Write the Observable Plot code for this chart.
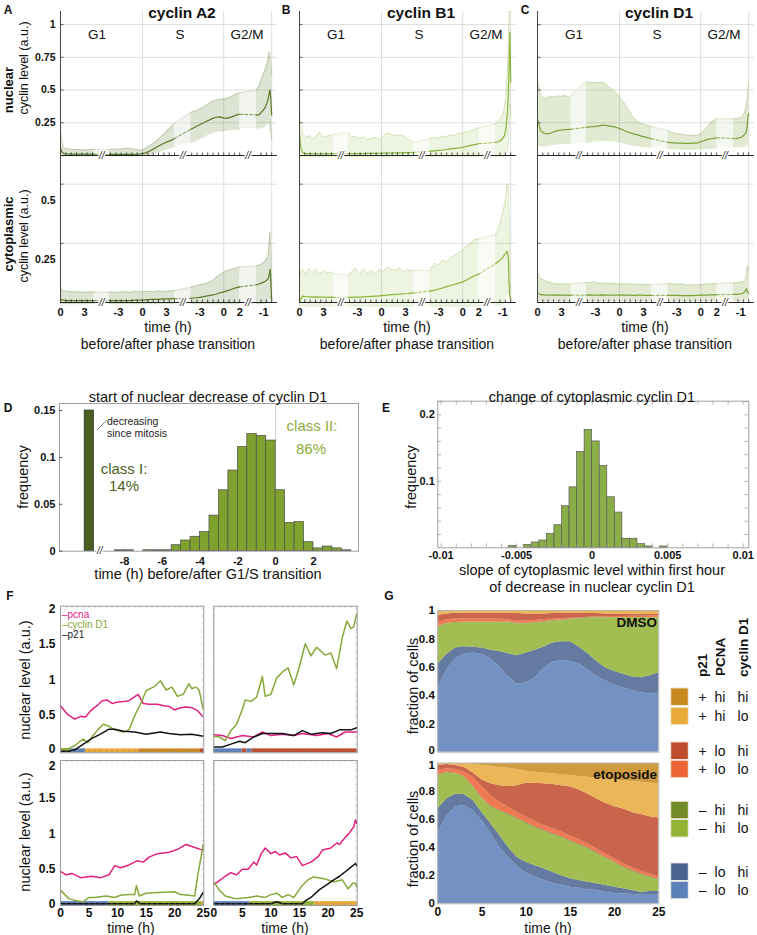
<!DOCTYPE html>
<html><head><meta charset="utf-8">
<script src="https://cdn.jsdelivr.net/npm/d3@7"></script>
<script src="https://cdn.jsdelivr.net/npm/@observablehq/plot@0.6"></script>
<style>
body{margin:0;background:#fff;}
#root{position:relative;width:757px;height:935px;overflow:hidden;background:#fff;}
</style></head><body><div id="root"></div>
<script>
// ---------------- DATA ----------------
// Panels A-C: time samples (h) relative to each transition, per segment of the broken axis
const seg1T = [0, 0.15, 0.4, 0.8, 1.2, 1.6, 2, 2.5, 3, 3.5, 4, 4.2];                 // after mitosis
const seg2T = [-4.15, -3.75, -3.25, -2.75, -2.25, -1.75, -1.25, -0.75, -0.25, 0.25, 0.75, 1.25, 1.75, 2.25, 2.75, 3.25, 3.75, 4.0]; // around G1/S
const seg3T = [-4.1, -3.5, -3, -2.5, -2, -1.5, -1, -0.5, 0, 0.5, 1, 1.5, 2];          // around S/G2
const seg4T = [-1.9, -1.6, -1.3, -1.0, -0.8, -0.6, -0.45, -0.3, -0.2, -0.1, 0];       // before mitosis

const A_nuc_mean = [0.06,0.03,0.015,0.012,0.01,0.01,0.01,0.01,0.01,0.01,0.01,0.01, 0.008,0.008,0.008,0.008,0.008,0.008,0.009,0.01,0.012,0.018,0.03,0.045,0.063,0.08,0.095,0.108,0.12,0.13, 0.2,0.22,0.235,0.25,0.265,0.28,0.292,0.295,0.285,0.285,0.295,0.308,0.315, 0.31,0.31,0.33,0.35,0.37,0.4,0.43,0.48,0.5,0.42,0.31];
const A_nuc_hi = [0.2,0.12,0.06,0.05,0.048,0.045,0.045,0.044,0.043,0.045,0.046,0.046, 0.045,0.05,0.048,0.05,0.052,0.055,0.05,0.045,0.04,0.05,0.07,0.09,0.11,0.14,0.17,0.2,0.23,0.245, 0.33,0.34,0.355,0.37,0.39,0.41,0.42,0.43,0.43,0.44,0.45,0.47,0.48, 0.5,0.53,0.58,0.63,0.66,0.7,0.74,0.79,0.76,0.7,0.62];
const A_nuc_lo = [-0.003,-0.003,-0.003,-0.003,-0.003,-0.003,-0.003,-0.003,-0.003,-0.003,-0.003,-0.003, -0.003,-0.003,-0.003,-0.003,-0.003,-0.003,-0.003,-0.003,-0.002,0.002,0.008,0.015,0.025,0.035,0.045,0.055,0.065,0.07, 0.1,0.115,0.13,0.145,0.16,0.175,0.185,0.19,0.19,0.195,0.2,0.2,0.205, 0.21,0.21,0.215,0.22,0.23,0.24,0.25,0.26,0.24,0.18,0.12];
const A_cyt_mean = [0.01,0.012,0.01,0.008,0.008,0.008,0.008,0.008,0.008,0.008,0.008,0.008, 0.008,0.008,0.008,0.008,0.008,0.008,0.009,0.01,0.01,0.011,0.012,0.013,0.013,0.014,0.015,0.015,0.016,0.016, 0.018,0.02,0.022,0.025,0.028,0.031,0.035,0.04,0.045,0.05,0.056,0.062,0.066, 0.075,0.078,0.082,0.086,0.09,0.095,0.1,0.12,0.14,0.08,0.015];
const A_cyt_hi = [0.07,0.055,0.05,0.047,0.045,0.046,0.044,0.045,0.043,0.044,0.045,0.044, 0.043,0.045,0.042,0.044,0.046,0.043,0.045,0.047,0.044,0.046,0.048,0.045,0.047,0.049,0.046,0.048,0.05,0.05, 0.065,0.07,0.075,0.078,0.083,0.09,0.105,0.118,0.128,0.135,0.14,0.145,0.15, 0.155,0.158,0.162,0.17,0.175,0.185,0.2,0.26,0.3,0.2,0.06];
const A_cyt_lo = [-0.005,-0.005,-0.005,-0.005,-0.005,-0.005,-0.005,-0.005,-0.005,-0.005,-0.005,-0.005, -0.005,-0.005,-0.005,-0.005,-0.005,-0.005,-0.005,-0.005,-0.005,-0.005,-0.005,-0.005,-0.005,-0.005,-0.005,-0.005,-0.005,-0.005, -0.005,-0.005,-0.005,-0.005,-0.005,-0.005,-0.005,-0.005,-0.005,-0.005,-0.005,-0.005,-0.005, -0.005,-0.005,-0.005,-0.004,-0.003,0,0.005,0.02,0.03,0.01,0];

const B_nuc_mean = [0.17,0.06,0.02,0.015,0.014,0.014,0.013,0.013,0.013,0.014,0.014,0.014, 0.014,0.014,0.015,0.015,0.015,0.016,0.016,0.017,0.017,0.018,0.018,0.019,0.02,0.02,0.021,0.022,0.023,0.024, 0.033,0.036,0.039,0.042,0.046,0.05,0.054,0.058,0.063,0.07,0.077,0.083,0.09, 0.1,0.105,0.112,0.13,0.15,0.2,0.3,0.45,0.67,0.94,0.56];
const B_nuc_hi = [0.34,0.25,0.17,0.14,0.15,0.13,0.14,0.18,0.14,0.15,0.15,0.16, 0.18,0.14,0.15,0.13,0.14,0.12,0.13,0.14,0.12,0.15,0.17,0.16,0.15,0.16,0.15,0.13,0.11,0.1, 0.13,0.14,0.13,0.15,0.14,0.16,0.15,0.17,0.17,0.18,0.19,0.2,0.21, 0.24,0.26,0.28,0.31,0.36,0.45,0.6,0.85,1.1,1.1,1.1];
const B_nuc_lo = [-0.01,-0.01,-0.01,-0.01,-0.01,-0.01,-0.01,-0.01,-0.01,-0.01,-0.01,-0.01, -0.01,-0.01,-0.01,-0.01,-0.01,-0.01,-0.01,-0.01,-0.01,-0.01,-0.01,-0.01,-0.01,-0.01,-0.01,-0.01,-0.01,-0.01, -0.01,-0.01,-0.01,-0.01,-0.01,-0.01,-0.01,-0.01,-0.01,-0.01,-0.01,-0.01,-0.01, -0.01,-0.01,-0.01,-0.005,0,0.01,0.03,0.08,0.2,0.4,0.3];
const B_cyt_mean = [0.0,0.015,0.027,0.025,0.024,0.023,0.024,0.023,0.023,0.022,0.023,0.022, 0.022,0.022,0.023,0.023,0.024,0.025,0.026,0.027,0.028,0.03,0.031,0.033,0.034,0.035,0.037,0.038,0.04,0.04, 0.048,0.052,0.057,0.062,0.067,0.072,0.077,0.082,0.087,0.095,0.105,0.113,0.12, 0.164,0.172,0.18,0.19,0.2,0.21,0.217,0.19,0.08,0.03,0.015];
const B_cyt_hi = [0.107,0.13,0.14,0.12,0.145,0.125,0.14,0.12,0.135,0.125,0.13,0.124, 0.114,0.13,0.145,0.12,0.14,0.125,0.135,0.12,0.14,0.13,0.15,0.14,0.135,0.145,0.13,0.14,0.135,0.135, 0.135,0.165,0.16,0.18,0.17,0.19,0.2,0.21,0.22,0.24,0.25,0.265,0.27, 0.285,0.31,0.34,0.38,0.41,0.45,0.5,0.5,0.35,0.15,0.06];
const B_cyt_lo = [-0.015,-0.015,-0.015,-0.015,-0.015,-0.015,-0.015,-0.015,-0.015,-0.015,-0.015,-0.015, -0.015,-0.015,-0.015,-0.015,-0.015,-0.015,-0.015,-0.015,-0.015,-0.015,-0.015,-0.015,-0.015,-0.015,-0.015,-0.015,-0.015,-0.015, -0.015,-0.015,-0.015,-0.015,-0.015,-0.015,-0.015,-0.015,-0.015,-0.015,-0.015,-0.015,-0.015, -0.015,-0.012,-0.01,-0.005,0.02,0.03,0.04,0.05,0.04,0.01,0];

const C_nuc_mean = [0.28,0.24,0.19,0.17,0.165,0.17,0.18,0.19,0.195,0.198,0.2,0.2, 0.216,0.218,0.22,0.225,0.23,0.23,0.225,0.22,0.212,0.2,0.185,0.175,0.165,0.157,0.148,0.14,0.132,0.128, 0.1,0.097,0.095,0.094,0.093,0.093,0.094,0.095,0.105,0.115,0.125,0.13,0.135, 0.13,0.13,0.132,0.138,0.145,0.155,0.165,0.18,0.22,0.29,0.32];
const C_nuc_hi = [0.59,0.54,0.47,0.43,0.44,0.45,0.445,0.455,0.45,0.46,0.44,0.46, 0.565,0.555,0.56,0.555,0.56,0.55,0.52,0.5,0.47,0.43,0.39,0.34,0.29,0.26,0.245,0.235,0.225,0.22, 0.19,0.175,0.168,0.162,0.158,0.155,0.153,0.152,0.165,0.195,0.23,0.265,0.28, 0.28,0.28,0.285,0.29,0.3,0.32,0.34,0.37,0.42,0.5,0.56];
const C_nuc_lo = [0.09,0.085,0.075,0.071,0.075,0.08,0.085,0.088,0.09,0.092,0.094,0.094, 0.1,0.103,0.108,0.112,0.115,0.115,0.113,0.11,0.107,0.1,0.092,0.085,0.078,0.074,0.07,0.067,0.065,0.064, 0.056,0.054,0.052,0.05,0.05,0.05,0.05,0.05,0.052,0.054,0.056,0.057,0.058, 0.064,0.065,0.066,0.067,0.068,0.07,0.072,0.075,0.08,0.085,0.09];
const C_cyt_mean = [0.04,0.038,0.033,0.032,0.031,0.031,0.031,0.032,0.031,0.031,0.03,0.031, 0.031,0.032,0.031,0.031,0.032,0.031,0.031,0.031,0.031,0.032,0.031,0.031,0.03,0.031,0.031,0.03,0.03,0.03, 0.03,0.03,0.03,0.029,0.029,0.029,0.029,0.03,0.031,0.031,0.032,0.032,0.033, 0.034,0.034,0.035,0.036,0.038,0.042,0.048,0.058,0.05,0.042,0.038];
const C_cyt_hi = [0.143,0.12,0.1,0.095,0.088,0.085,0.08,0.078,0.079,0.077,0.078,0.078, 0.085,0.083,0.088,0.082,0.08,0.083,0.079,0.081,0.078,0.08,0.077,0.079,0.076,0.078,0.076,0.077,0.075,0.075, 0.08,0.078,0.077,0.079,0.076,0.074,0.075,0.074,0.076,0.077,0.078,0.079,0.08, 0.083,0.083,0.085,0.086,0.088,0.09,0.095,0.11,0.15,0.157,0.135];
const C_cyt_lo = [0.01,0.009,0.008,0.008,0.008,0.008,0.008,0.008,0.008,0.008,0.008,0.008, 0.008,0.009,0.008,0.008,0.007,0.008,0.008,0.009,0.008,0.008,0.007,0.008,0.008,0.008,0.009,0.008,0.008,0.008, 0.008,0.008,0.008,0.008,0.008,0.008,0.008,0.008,0.008,0.008,0.008,0.008,0.008, 0.008,0.008,0.008,0.008,0.009,0.009,0.01,0.011,0.012,0.012,0.012];

const nucGrid = [0.25, 0.5, 0.75, 1];
const cytGrid = [0.25, 0.5];
const xTickSeg = [0, 0, 1, 1, 1, 2, 2, 2, 3];
const xTickT = [0, 3, -3, 0, 3, -3, 0, 2, -1];

// Panel D: histogram of start of nuclear decrease (bin start, h; width 0.5 h)
const dBinStart = [-8.5,-8,-7,-6.5,-6,-5.5,-5,-4.5,-4,-3.5,-3,-2.5,-2,-1.5,-1,-0.5,0,0.5,1,1.5,2,2.5,3,3.5];
const dFreq = [0.001,0.001,0.001,0.001,0.001,0.0064,0.0114,0.0154,0.0204,0.038,0.065,0.086,0.111,0.125,0.123,0.118,0.065,0.030,0.031,0.0096,0.003,0.005,0.003,0.001];
const classIFreq = 0.15;
const dXTicks = [-8, -6, -4, -2, 0, 2];
const dYTicks = [0, 0.05, 0.1, 0.15];

// Panel E: slope histogram (bin start; width 0.0005)
const eBinStart = [-0.0055,-0.0045,-0.004,-0.0035,-0.003,-0.0025,-0.002,-0.0015,-0.001,-0.0005,0,0.0005,0.001,0.0015,0.002,0.0025,0.003,0.0035,0.0045];
const eFreq = [0.0025,0.0045,0.008,0.011,0.021,0.034,0.0625,0.091,0.144,0.177,0.16,0.123,0.076,0.053,0.0136,0.0136,0.0055,0.002,0.002];
const eXTicks = [-0.01, -0.005, 0, 0.005, 0.01];
const eXLabels = ["-0.01", "-0.005", "0", "0.005", "0.01"];
const eYTicks = [0.1, 0.2];

// Panel F: single-cell traces (time h, nuclear level)
const F1_pcna_t = [0,1.2,2.5,3.5,4.4,5.3,6.4,7.3,8.1,9.1,9.9,11.1,12,12.9,13.6,14.5,15.5,17,18.1,19,20,21,22,23.1,24,24.9];
const F1_pcna_v = [0.64,0.52,0.45,0.49,0.48,0.57,0.64,0.71,0.72,0.67,0.69,0.7,0.71,0.76,0.8,0.67,0.66,0.66,0.64,0.63,0.58,0.61,0.62,0.61,0.57,0.49];
const F1_cyc_t = [0,1.5,2.5,3.3,4,4.8,5.5,6.5,7.5,8.5,9.5,11,12,13,14,15,16.5,17.5,18.5,19.5,20.5,21.5,22.5,23,23.8,24.3,25];
const F1_cyc_v = [0.03,0.04,0.08,0.13,0.17,0.12,0.2,0.3,0.38,0.35,0.3,0.27,0.3,0.5,0.66,0.85,0.91,0.99,0.86,0.9,0.77,0.8,0.95,0.88,0.9,0.85,0.59];
const F1_p21_t = [0,1.5,2.5,4,5.5,7,8.5,9.5,11,13,15,17.5,19,21,23,25];
const F1_p21_v = [0,0,0.02,0.1,0.18,0.24,0.31,0.31,0.28,0.27,0.24,0.27,0.25,0.23,0.24,0.21];

const F2_pcna_t = [0,1.5,3,5,7,8.5,10,12,14,15.5,18,20,21.5,23,25];
const F2_pcna_v = [0.23,0.22,0.18,0.22,0.2,0.27,0.22,0.24,0.22,0.25,0.22,0.25,0.2,0.27,0.27];
const F2_cyc_t = [0,1,2,3,4,5,5.5,6.5,7.5,8.5,9,10,11,12,13,14,15,16,17,18,19.5,20.5,21.5,22.5,23.3,24,24.5,25];
const F2_cyc_v = [0.21,0.2,0.15,0.29,0.38,0.59,0.72,0.7,0.76,1.05,0.77,0.8,1.03,1.11,1.17,0.93,1.19,1.51,1.34,1.46,1.35,1.38,1.16,1.6,1.83,1.72,1.75,1.92];
const F2_p21_t = [0,1.5,3,4.5,5.5,7,8.5,10,12,14,15.5,17,19,20.5,22,24,25];
const F2_p21_v = [0.06,0.06,0.1,0.14,0.12,0.2,0.25,0.25,0.25,0.22,0.29,0.24,0.26,0.25,0.3,0.3,0.33];

const F3_pcna_t = [0,1,2,3.5,5.5,7,8.5,9.5,10.5,12,13.5,14.5,15.5,17,19,20.5,22,23,24.5,25];
const F3_pcna_v = [0.47,0.42,0.44,0.38,0.4,0.38,0.42,0.55,0.52,0.56,0.62,0.6,0.67,0.72,0.74,0.78,0.85,0.82,0.78,0.77];
const F3_cyc_t = [0,1.5,3,4,5,6,8,9.5,10.5,12,13,13.3,13.8,15,17,20,21,22.5,23.5,24,25];
const F3_cyc_v = [0.2,0.08,0.05,0.04,0.1,0.1,0.12,0.1,0.13,0.14,0.14,0.27,0.12,0.16,0.17,0.18,0.14,0.13,0.12,0.39,0.85];
const F3_p21_t = [0,5,10,13,13.3,14,18,23.5,24.3,25];
const F3_p21_v = [0.01,0.01,0.01,0.01,0.05,0.01,0.01,0.01,0.08,0.17];

const F4_pcna_t = [0,0.5,2,3,4,5,6,7,7.5,8.3,9,10,10.8,11.5,12.5,13.5,14.5,15.5,17,18.3,19,20.5,21.5,22,23,23.8,24.5,24.8,25];
const F4_pcna_v = [0.29,0.31,0.4,0.45,0.42,0.5,0.5,0.6,0.56,0.72,0.8,0.72,0.75,0.7,0.73,0.66,0.68,0.55,0.6,0.68,0.77,0.8,0.87,0.85,0.95,1.02,1.1,1.2,1.15];
const F4_cyc_t = [0,1,2,3,4,6,7.5,9,10,11,12,13,14,15.5,16.5,17.5,19.5,21,22.5,23.5,24.3,24.8,25];
const F4_cyc_v = [0.32,0.2,0.12,0.1,0.08,0.1,0.12,0.1,0.14,0.16,0.1,0.14,0.1,0.27,0.35,0.39,0.36,0.32,0.35,0.22,0.3,0.3,0.25];
const F4_p21_t = [0,5,10,11,12,15.5,16,17,18.5,19.8,21,22,22.8,24,24.8,25];
const F4_p21_v = [0.01,0.01,0.01,0.04,0.01,0.01,0.05,0.1,0.21,0.28,0.35,0.4,0.45,0.53,0.58,0.55];

// state strips under each trace: [start, end, state]
const F1_strip = [[0,1.75,"–hi lo"],[1.75,4.4,"–lo lo"],[4.4,13.7,"+hi lo"],[13.7,24.5,"+hi hi"],[24.5,25.1,"+lo hi"]];
const F2_strip = [[0,4.95,"–lo lo"],[4.95,5.8,"+lo hi"],[5.8,6.7,"–lo lo"],[6.7,25.1,"+lo hi"]];
const F3_strip = [[0,8.5,"–lo lo"],[8.5,24.7,"–hi lo"],[24.7,25.1,"+hi lo"]];
const F4_strip = [[0,6.3,"–lo lo"],[6.3,17.7,"–hi lo"],[17.7,25.1,"+hi lo"]];
const fYTicks = [0, 0.5, 1, 1.5, 2];
const fXTicks = [0, 5, 10, 15, 20, 25];

// Panel G: cumulative fractions (top of each stacked state), t = 0..25 h
const gTime = [0,1,2,3,4,5,6,7,8,9,10,11,12,13,14,15,16,17,18,19,20,21,22,23,24,25];
const gStates = ["–lo lo","–lo hi","–hi lo","–hi hi","+lo lo","+lo hi","+hi lo","+hi hi"];
const gColors = ["#5c80b9","#4a6491","#93b335","#728a27","#ec6436","#bf4c2c","#e9a93b","#c8891f"];
const dmso = [
 [0.45,0.58,0.66,0.69,0.70,0.69,0.66,0.60,0.53,0.48,0.49,0.525,0.59,0.635,0.647,0.64,0.62,0.58,0.534,0.50,0.475,0.454,0.435,0.42,0.41,0.41],
 [0.62,0.69,0.735,0.745,0.74,0.735,0.72,0.71,0.694,0.68,0.70,0.72,0.74,0.77,0.78,0.78,0.74,0.694,0.64,0.595,0.57,0.55,0.53,0.525,0.54,0.56],
 [0.88,0.905,0.91,0.913,0.913,0.913,0.913,0.913,0.913,0.905,0.905,0.91,0.915,0.925,0.928,0.934,0.94,0.946,0.948,0.948,0.948,0.948,0.948,0.948,0.948,0.95],
 [0.885,0.91,0.915,0.918,0.918,0.918,0.918,0.918,0.918,0.91,0.91,0.915,0.92,0.93,0.933,0.938,0.944,0.95,0.951,0.951,0.951,0.951,0.951,0.951,0.951,0.953],
 [0.913,0.934,0.94,0.94,0.94,0.94,0.94,0.94,0.935,0.925,0.927,0.93,0.935,0.94,0.943,0.945,0.948,0.953,0.955,0.956,0.957,0.958,0.959,0.96,0.961,0.962],
 [0.965,0.976,0.98,0.98,0.98,0.98,0.98,0.98,0.98,0.978,0.976,0.976,0.976,0.978,0.98,0.98,0.98,0.979,0.978,0.976,0.975,0.974,0.974,0.973,0.972,0.972],
 [0.99,0.992,0.992,0.993,0.993,0.993,0.993,0.993,0.993,0.993,0.993,0.993,0.993,0.993,0.993,0.993,0.993,0.993,0.993,0.993,0.993,0.993,0.993,0.993,0.993,0.993],
 [1,1,1,1,1,1,1,1,1,1,1,1,1,1,1,1,1,1,1,1,1,1,1,1,1,1]
];
const etoposide = [
 [0.5,0.62,0.69,0.70,0.66,0.59,0.50,0.40,0.33,0.265,0.218,0.19,0.166,0.147,0.133,0.118,0.111,0.10,0.095,0.083,0.071,0.071,0.066,0.06,0.06,0.06],
 [0.675,0.746,0.78,0.777,0.735,0.65,0.57,0.486,0.40,0.33,0.296,0.27,0.25,0.225,0.20,0.178,0.166,0.154,0.142,0.13,0.118,0.107,0.095,0.083,0.088,0.088],
 [0.91,0.93,0.925,0.90,0.83,0.746,0.687,0.655,0.63,0.6,0.57,0.54,0.515,0.49,0.468,0.44,0.415,0.39,0.355,0.322,0.29,0.255,0.228,0.205,0.185,0.167],
 [0.915,0.935,0.93,0.905,0.836,0.753,0.695,0.663,0.638,0.608,0.578,0.548,0.523,0.498,0.476,0.448,0.423,0.398,0.363,0.33,0.298,0.263,0.236,0.213,0.193,0.175],
 [0.948,0.96,0.955,0.936,0.90,0.83,0.77,0.72,0.687,0.65,0.616,0.585,0.557,0.533,0.51,0.48,0.455,0.426,0.39,0.355,0.32,0.284,0.256,0.232,0.21,0.19],
 [0.983,0.99,0.983,0.97,0.93,0.88,0.853,0.84,0.834,0.84,0.858,0.858,0.853,0.848,0.84,0.83,0.81,0.78,0.746,0.716,0.69,0.675,0.65,0.635,0.62,0.61],
 [1.0,1.0,1.0,1.0,0.995,0.983,0.978,0.97,0.965,0.953,0.943,0.936,0.93,0.924,0.917,0.912,0.906,0.9,0.895,0.89,0.88,0.875,0.87,0.865,0.858,0.853],
 [1,1,1,1,1,1,1,1,1,1,1,1,1,1,1,1,1,1,1,1,1,1,1,1,1,1]
];
const gYTicks = [0, 0.2, 0.4, 0.6, 0.8, 1];
const gXTicks = [0, 5, 10, 15, 20, 25];
const legendRows = [["+","hi","hi","+hi hi"],["+","hi","lo","+hi lo"],["+","lo","hi","+lo hi"],["+","lo","lo","+lo lo"],["–","hi","hi","–hi hi"],["–","hi","lo","–hi lo"],["–","lo","hi","–lo hi"],["–","lo","lo","–lo lo"]];

// ---------------- HELPERS ----------------
const FONT = "'Liberation Sans', Arial, Helvetica, sans-serif";
const root = document.getElementById("root");
const baseStyle = {fontFamily: FONT, overflow: "visible", background: "transparent"};
function put(node, left, top) { node.style.position = "absolute"; node.style.left = left + "px"; node.style.top = top + "px"; root.appendChild(node); return node; }
function label(text, x, y, o = {}) {
  const d = document.createElement("div");
  d.textContent = text;
  const a = o.anchor || "middle";
  const tx = a === "start" ? "0%" : a === "end" ? "-100%" : "-50%";
  d.style.cssText = `position:absolute;left:${x}px;top:${y}px;font-family:${FONT};font-size:${o.size || 14}px;font-weight:${o.weight || "normal"};color:${o.color || "#111"};white-space:nowrap;line-height:1;transform:translate(${tx},-50%)${o.rotate ? ` rotate(${o.rotate}deg)` : ""};`;
  root.appendChild(d);
}
const stateColor = Object.fromEntries(gStates.map((s, i) => [s, gColors[i]]));

// ---------------- PANELS A–C ----------------
const segAnchor = [0, 10.25, 20.4, 26.4]; // positions of M exit, G1/S, S/G2, M on the broken axis
const segTimes = [seg1T, seg2T, seg3T, seg4T];
const uPos = segTimes.flatMap((ts, k) => ts.map(t => segAnchor[k] + t));
const segOf = segTimes.flatMap((ts, k) => ts.map(() => k));
const tickStep = 2 / 3;
const minorU = segTimes.flatMap((ts, k) => {
  const a = ts[0], b = ts[ts.length - 1];
  return d3.range(Math.ceil(a / tickStep - 1e-9), Math.floor(b / tickStep + 1e-9) + 1).map(j => segAnchor[k] + j * tickStep);
});
const breakU = [0, 1, 2].map(k => (segAnchor[k] + segTimes[k][segTimes[k].length - 1] + segAnchor[k + 1] + segTimes[k + 1][0]) / 2);
const xTickRows = xTickSeg.map((s, i) => ({u: segAnchor[s] + xTickT[i], label: String(xTickT[i])}));

function rowsFor(mean, lo, hi) { return uPos.map((u, i) => ({u, seg: segOf[i], mean: mean[i], lo: lo[i], hi: hi[i]})); }
function gapRowsFor(rows) {
  const out = [];
  for (let k = 0; k < 3; k++) {
    const seg = rows.filter(r => r.seg === k), nxt = rows.filter(r => r.seg === k + 1);
    out.push({...seg[seg.length - 1], gap: k}, {...nxt[0], gap: k});
  }
  return out;
}
function cyclinPlot(data, color, op, kind, showY) {
  const rows = rowsFor(...data), gaps = gapRowsFor(rows);
  const nuc = kind === "nuc";
  const yMax = nuc ? 1.1 : 0.6, grid = nuc ? nucGrid : cytGrid, tl = nuc ? 0.019 : 0.011;
  const marks = [
    Plot.ruleY(grid, {x1: 0, x2: 27.1, stroke: "#d6d6d6", strokeWidth: 0.8}),
    Plot.ruleX(segAnchor.slice(1), {y1: nuc ? -0.04 : 0, y2: yMax, stroke: "#d6d6d6", strokeWidth: 0.8}),
    Plot.areaY(rows, {x: "u", y1: "lo", y2: "hi", fill: color, fillOpacity: op}),
    Plot.lineY(rows, {x: "u", y: "hi", z: "seg", stroke: color, strokeOpacity: 0.45, strokeWidth: 0.6}),
    Plot.lineY(rows, {x: "u", y: "lo", z: "seg", stroke: color, strokeOpacity: 0.45, strokeWidth: 0.6}),
    Plot.areaY(gaps, {x: "u", y1: "lo", y2: "hi", z: "gap", fill: "white", fillOpacity: 0.62}),
    Plot.lineY(gaps, {x: "u", y: "hi", z: "gap", stroke: color, strokeOpacity: 0.4, strokeWidth: 0.6, strokeDasharray: "2,2"}),
    Plot.lineY(rows, {x: "u", y: "mean", z: "seg", stroke: color, strokeWidth: 1.2}),
    Plot.lineY(gaps, {x: "u", y: "mean", z: "gap", stroke: color, strokeWidth: 1, strokeOpacity: 0.8, strokeDasharray: "3,2"}),
    Plot.ruleY([0], {x1: 0, x2: 27.1, stroke: "#222", strokeWidth: 1}),
    Plot.ruleX(minorU, {y1: 0, y2: tl, stroke: "#222", strokeWidth: 0.8}),
    Plot.ruleX([0], {y1: nuc ? -0.04 : 0, y2: yMax, stroke: "#444", strokeWidth: 1}),
    Plot.ruleY(grid, {x1: 0, x2: 0.45, stroke: "#444", strokeWidth: 0.8}),
    Plot.text(breakU, {x: d => d, y: 0, text: () => "//", fill: "#222", stroke: "white", strokeWidth: 3, paintOrder: "stroke", fontSize: 10, fontStyle: "italic"})
  ];
  if (showY) marks.push(Plot.text(grid, {x: 0, y: d => d, text: d => String(d), textAnchor: "end", dx: -5, dy: nuc ? 0 : 16, fontWeight: "bold", fontSize: 10.5, fill: "#111"}));
  if (!nuc) marks.push(Plot.text(xTickRows, {x: "u", y: 0, text: "label", dy: 10, fontWeight: "bold", fontSize: 11, fill: "#111"}));
  return Plot.plot({
    width: 280, height: nuc ? 160 : 190,
    marginLeft: 60, marginRight: 4,
    marginTop: nuc ? 11 : 0, marginBottom: nuc ? 5 : 48,
    x: {domain: [0, 27], axis: null},
    y: {domain: [0, yMax], axis: null},
    style: baseStyle, marks
  });
}
const cyclinPanels = [
  {left: 0, title: "cyclin A2", letter: "A", color: "#5a7a28", op: 0.2, nuc: [A_nuc_mean, A_nuc_lo, A_nuc_hi], cyt: [A_cyt_mean, A_cyt_lo, A_cyt_hi]},
  {left: 239, title: "cyclin B1", letter: "B", color: "#8ab43a", op: 0.15, nuc: [B_nuc_mean, B_nuc_lo, B_nuc_hi], cyt: [B_cyt_mean, B_cyt_lo, B_cyt_hi]},
  {left: 477, title: "cyclin D1", letter: "C", color: "#7ca03a", op: 0.22, nuc: [C_nuc_mean, C_nuc_lo, C_nuc_hi], cyt: [C_cyt_mean, C_cyt_lo, C_cyt_hi]}
];
cyclinPanels.forEach((p, i) => {
  put(cyclinPlot(p.nuc, p.color, p.op, "nuc", i === 0), p.left, 0);
  put(cyclinPlot(p.cyt, p.color, p.op, "cyt", i === 0), p.left, 160);
  label(p.title, p.left + 182, 13, {size: 15.5, weight: "bold"});
  label("G1", p.left + 97, 35, {size: 13.5});
  label("S", p.left + 180, 35, {size: 13.5});
  label("G2/M", p.left + 247, 35, {size: 13.5});
  label("time (h)", p.left + 168, 327, {size: 14});
  label("before/after phase transition", p.left + 168, 344, {size: 14});
  label(p.letter, i === 0 ? 8 : p.left + (i === 1 ? 47 : 48), 10, {size: 12, weight: "bold"});
});
label("nuclear", 8, 90, {size: 13, weight: "bold", rotate: -90});
label("cyclin level (a.u.)", 24, 68, {size: 12.5, rotate: -90});
label("cytoplasmic", 8, 234, {size: 13, weight: "bold", rotate: -90});
label("cyclin level (a.u.)", 24, 236, {size: 12.5, rotate: -90});

// ---------------- PANEL D ----------------
const dRows = dBinStart.map((x1, i) => ({x1, x2: x1 + 0.5, f: dFreq[i]}));
const classIRows = [{x1: -10.1, x2: -9.6, f: classIFreq}];
put(Plot.plot({
  width: 380, height: 195, marginLeft: 59, marginRight: 22, marginTop: 8, marginBottom: 39.3,
  x: {domain: [-11.43, 4.38], axis: null}, y: {domain: [0, 0.1575], axis: null}, style: baseStyle,
  marks: [
    Plot.ruleX([0], {stroke: "#d0d0d0"}),
    Plot.rectY(dRows, {x1: "x1", x2: "x2", y: "f", fill: "#7fa22e", stroke: "#4d4d4d", strokeWidth: 0.7}),
    Plot.rectY(classIRows, {x1: "x1", x2: "x2", y: "f", fill: "#4b5f1e", stroke: "#333", strokeWidth: 0.7}),
    Plot.frame({stroke: "#a0a0a0"}),
    Plot.ruleY(dYTicks, {x1: -11.43, x2: -11.25, stroke: "#555"}),
    Plot.text(dYTicks, {x: -11.43, y: d => d, text: d => String(d), textAnchor: "end", dx: -4, fontWeight: "bold", fontSize: 11, fill: "#111"}),
    Plot.text(dXTicks, {x: d => d, y: 0, text: d => String(d), dy: 10, fontWeight: "bold", fontSize: 11, fill: "#111"}),
    Plot.text([-9.3], {x: d => d, y: 0, text: () => "//", fill: "#222", stroke: "white", strokeWidth: 3, paintOrder: "stroke", fontSize: 10, fontStyle: "italic"})
  ]
}), 0, 395);
label("D", 8, 408, {size: 12, weight: "bold"});
label("start of nuclear decrease of cyclin D1", 208, 397, {size: 14.5});
label("frequency", 22.5, 477, {size: 14.5, rotate: -90});
label("time (h) before/after G1/S transition", 208, 574, {size: 14.5});
label("decreasing", 107, 421, {size: 10.5, anchor: "start", color: "#222"});
label("since mitosis", 107, 433, {size: 10.5, anchor: "start", color: "#222"});
label("class I:", 124, 468, {size: 15, color: "#4b5f1e"});
label("14%", 124, 485, {size: 15, color: "#4b5f1e"});
label("class II:", 312, 425, {size: 15, color: "#8cad3c"});
label("86%", 311, 448, {size: 15, color: "#8cad3c"});
{ const s = d3.create("svg").attr("width", 14).attr("height", 14);
  s.append("line").attr("x1", 1).attr("y1", 12).attr("x2", 11).attr("y2", 2).attr("stroke", "#333").attr("stroke-width", 0.6);
  put(s.node(), 95.5, 417.5); }

// ---------------- PANEL E ----------------
const eRows = eBinStart.map((x1, i) => ({x1, x2: x1 + 0.0005, f: eFreq[i]}));
const eTop = d3.range(-0.01, 0.01001, 0.001);
const eSide = d3.range(0.02, 0.2201, 0.02);
put(Plot.plot({
  width: 377, height: 200, marginLeft: 57.3, marginRight: 8.7, marginTop: 5.7, marginBottom: 47.7,
  x: {domain: [-0.01022, 0.01037], axis: null}, y: {domain: [0, 0.2205], axis: null}, style: baseStyle,
  marks: [
    Plot.rectY(eRows, {x1: "x1", x2: "x2", y: "f", fill: "#8aad48", stroke: "#5a5a5a", strokeWidth: 0.7}),
    Plot.frame({stroke: "#a0a0a0"}),
    Plot.ruleX(eTop, {y1: 0.2205, y2: 0.2145, stroke: "#999", strokeWidth: 0.7}),
    Plot.ruleX(eTop, {y1: 0, y2: 0.006, stroke: "#999", strokeWidth: 0.7}),
    Plot.ruleY(eSide, {x1: -0.01022, x2: -0.00996, stroke: "#999", strokeWidth: 0.7}),
    Plot.ruleY(eSide, {x1: 0.01037, x2: 0.01011, stroke: "#999", strokeWidth: 0.7}),
    Plot.text(eYTicks, {x: -0.01022, y: d => d, text: d => String(d), textAnchor: "end", dx: -3, fontWeight: "bold", fontSize: 11, fill: "#111"}),
    Plot.text(eXTicks, {x: d => d, y: 0, text: (d, i) => eXLabels[i], dy: 8, fontWeight: "bold", fontSize: 11, fill: "#111"})
  ]
}), 380, 395);
label("E", 386, 408, {size: 12, weight: "bold"});
label("change of cytoplasmic cyclin D1", 592, 397, {size: 14.5});
label("frequency", 411, 477, {size: 14.5, rotate: -90});
label("slope of cytoplasmic level within first hour", 592, 570, {size: 14.5});
label("of decrease in nuclear cyclin D1", 592, 587, {size: 14.5});

// ---------------- PANEL F ----------------
function fPlot(series, strip, left, top, isLeft, isBottom) {
  const yd = isBottom ? [-0.014, 2.038] : [-0.022, 2.037];
  const stripRows = strip.map(([s, e, state]) => ({s, e, state}));
  const marks = [
    Plot.rect(stripRows, {x1: "s", x2: "e", y1: yd[0], y2: yd[0] + 0.055, fill: "state"}),
    ...series.map(([ts, vs, c]) => Plot.line(ts.map((t, i) => ({t, v: vs[i]})), {x: "t", y: "v", stroke: c, strokeWidth: 1.5})),
    Plot.frame({stroke: "#9a9a9a"}),
    Plot.ruleX(d3.range(0, 26, 1), {y1: yd[1], y2: yd[1] - 0.03, stroke: "#aaa", strokeWidth: 0.6}),
    Plot.ruleX(d3.range(0, 26, 1), {y1: yd[0], y2: yd[0] + 0.03, stroke: "#888", strokeWidth: 0.6}),
    Plot.ruleY(d3.range(0, 2.01, 0.1), {x1: 0, x2: 0.3, stroke: "#aaa", strokeWidth: 0.6}),
    Plot.ruleY(d3.range(0, 2.01, 0.1), {x1: 25.1, x2: 24.8, stroke: "#aaa", strokeWidth: 0.6})
  ];
  if (isLeft) {
    const tOpts = {x: 0, y: d => d, text: d => String(d), textAnchor: "end", dx: -5, fontWeight: "bold", fontSize: 12, fill: "#111"};
    const edge = isBottom ? [2] : [0];
    marks.push(Plot.text(fYTicks.filter(d => !edge.includes(d)), tOpts));
    marks.push(Plot.text(edge, {...tOpts, dy: isBottom ? 2.5 : -2.5}));
  }
  if (isBottom) marks.push(Plot.text(fXTicks, {x: d => d, y: yd[0], text: d => String(d), dy: 8, fontWeight: "bold", fontSize: 12, fill: "#111"}));
  return put(Plot.plot({
    width: isLeft ? 210 : 150, height: isBottom ? 175 : 155,
    marginLeft: isLeft ? 60 : 3.3, marginRight: isLeft ? 6.7 : 3.3,
    marginTop: isBottom ? 5 : 5.7, marginBottom: isBottom ? 25 : 2.7,
    x: {domain: [0, 25.1], axis: null}, y: {domain: yd, axis: null},
    color: {domain: gStates, range: gColors},
    style: baseStyle, marks
  }), left, top);
}
const PC = "#e2207f", CY = "#86a93a", PK = "#111";
fPlot([[F1_pcna_t, F1_pcna_v, PC], [F1_cyc_t, F1_cyc_v, CY], [F1_p21_t, F1_p21_v, PK]], F1_strip, 0, 600, true, false);
fPlot([[F2_pcna_t, F2_pcna_v, PC], [F2_cyc_t, F2_cyc_v, CY], [F2_p21_t, F2_p21_v, PK]], F2_strip, 210, 600, false, false);
fPlot([[F3_pcna_t, F3_pcna_v, PC], [F3_cyc_t, F3_cyc_v, CY], [F3_p21_t, F3_p21_v, PK]], F3_strip, 0, 755, true, true);
fPlot([[F4_pcna_t, F4_pcna_v, PC], [F4_cyc_t, F4_cyc_v, CY], [F4_p21_t, F4_p21_v, PK]], F4_strip, 210, 755, false, true);
label("F", 10, 596, {size: 12, weight: "bold"});
label("–pcna", 62, 615, {size: 10, anchor: "start", color: PC});
label("–cyclin D1", 62, 625, {size: 10, anchor: "start", color: CY});
label("–p21", 62, 635, {size: 10, anchor: "start", color: "#222"});
label("nuclear level (a.u.)", 25, 680, {size: 14.5, rotate: -90});
label("nuclear level (a.u.)", 25, 832, {size: 14.5, rotate: -90});
label("time (h)", 131, 928, {size: 14});
label("time (h)", 285, 928, {size: 14});

// ---------------- PANEL G ----------------
function stackRows(bounds) {
  return bounds.flatMap((top, k) => top.map((v, i) => ({t: gTime[i], state: gStates[k], y1: k ? bounds[k - 1][i] : 0, y2: v})));
}
function gPlot(bounds, top, isBottom) {
  const inner = gYTicks.filter(d => d > 0 && d < 1);
  const edge = isBottom ? [0] : [1];
  const shifted = isBottom ? [1] : [0];
  const tOpts = {x: 0, y: d => d, text: d => String(d), textAnchor: "end", dx: -3, fontWeight: "bold", fontSize: 11.5, fill: "#111"};
  const marks = [
    Plot.areaY(stackRows(bounds), {x: "t", y1: "y1", y2: "y2", z: "state", fill: "state", fillOpacity: 0.86}),
    Plot.frame({stroke: "#b5b5b5"}),
    Plot.text(inner.concat(edge), tOpts),
    Plot.text(shifted, {...tOpts, dy: isBottom ? 2 : -2})
  ];
  if (isBottom) marks.push(Plot.text(gXTicks, {x: d => d, y: 0, text: d => String(d), dy: 8, fontWeight: "bold", fontSize: 12, fill: "#111"}));
  return put(Plot.plot({
    width: 285, height: isBottom ? 175 : 155,
    marginLeft: 57.3, marginRight: 6.7,
    marginTop: isBottom ? 7.7 : 10, marginBottom: isBottom ? 26.7 : 3.3,
    x: {domain: [0, 25], axis: null}, y: {domain: [0, 1], axis: null},
    color: {domain: gStates, range: gColors},
    style: baseStyle, marks
  }), 380, top);
}
gPlot(dmso, 600, false);
gPlot(etoposide, 755, true);
label("G", 389, 596, {size: 12, weight: "bold"});
label("DMSO", 657, 623, {size: 13.5, weight: "bold", anchor: "end"});
label("etoposide", 657, 775, {size: 13.5, weight: "bold", anchor: "end"});
label("fraction of cells", 413, 686, {size: 14.5, rotate: -90});
label("fraction of cells", 413, 839, {size: 14.5, rotate: -90});
label("time (h)", 548, 928, {size: 14});

// legend for G
{
  const L = d3.create("svg").attr("width", 97).attr("height", 300).style("font-family", FONT).style("overflow", "visible");
  const ox = 660, oy = 610;
  const rowY = [696.7, 716, 750.7, 769, 810, 828.3, 871.7, 890];
  legendRows.forEach((r, i) => {
    const y = rowY[i] - oy;
    L.append("rect").attr("x", 670.7 - ox).attr("y", y - 8.8).attr("width", 17.6).attr("height", 17.6).attr("fill", stateColor[r[3]]).attr("stroke", "#f3efe4").attr("stroke-width", 1);
    [[702.7, r[0]], [720, r[1]], [743, r[2]]].forEach(([x, t]) => L.append("text").attr("x", x - ox).attr("y", y).attr("text-anchor", "middle").attr("dominant-baseline", "central").attr("font-size", 14).attr("fill", "#111").text(t));
  });
  [[702.5, 677, "p21"], [720.5, 676, "PCNA"], [743.5, 677, "cyclin D1"]].forEach(([x, yb, t]) =>
    L.append("text").attr("transform", `translate(${x - ox},${yb - oy}) rotate(-90)`).attr("text-anchor", "start").attr("dominant-baseline", "central").attr("font-size", 13.5).attr("font-weight", "bold").attr("fill", "#111").text(t));
  put(L.node(), ox, oy);
}
</script></body></html>
